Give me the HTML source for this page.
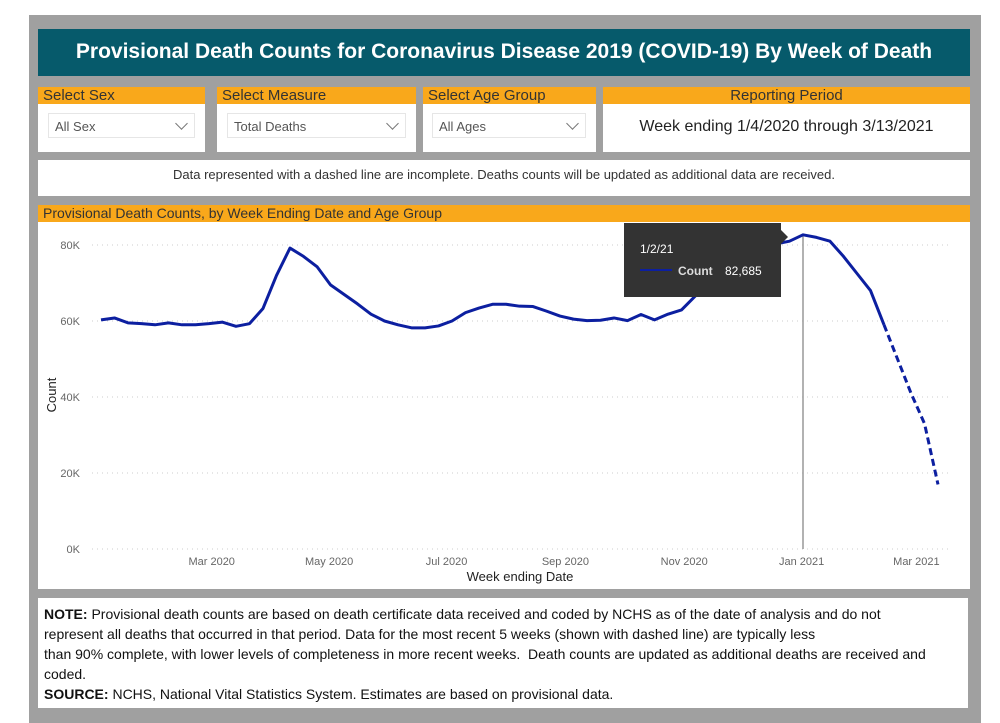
<!DOCTYPE html>
<html><head><meta charset="utf-8"><style>
body{margin:0;width:1000px;height:723px;background:#fff;position:relative;overflow:hidden;font-family:"Liberation Sans",sans-serif}
.abs{position:absolute}
.panel{position:absolute;background:#fff}
.hdr{position:absolute;left:0;right:0;top:0;height:17px;background:#f9a81b;color:#333;font-size:15px;line-height:17px;padding-left:5px}
.dd{position:absolute;border:1px solid #e6e6e6;height:25px;font-size:13px;color:#555;line-height:25px;padding-left:6px;box-sizing:border-box}
.chev{position:absolute;right:8px;top:5px;width:8px;height:8px;border-right:1.3px solid #777;border-bottom:1.3px solid #777;transform:rotate(45deg)}
</style></head><body>
<div class="abs" style="left:29px;top:15px;width:952px;height:708px;background:#a0a0a0"></div>
<div class="abs" style="left:38px;top:29px;width:932px;height:47px;background:#065a6b;color:#fff;font-weight:bold;font-size:21px;line-height:45px;text-align:center">Provisional Death Counts for Coronavirus Disease 2019 (COVID-19) By Week of Death</div>

<div class="panel" style="left:38px;top:87px;width:167px;height:65px"><div class="hdr">Select Sex</div><div class="dd" style="left:10px;top:26px;width:147px">All Sex<span class="chev"></span></div></div>
<div class="panel" style="left:217px;top:87px;width:199px;height:65px"><div class="hdr">Select Measure</div><div class="dd" style="left:10px;top:26px;width:179px">Total Deaths<span class="chev"></span></div></div>
<div class="panel" style="left:423px;top:87px;width:173px;height:65px"><div class="hdr">Select Age Group</div><div class="dd" style="left:9px;top:26px;width:154px">All Ages<span class="chev"></span></div></div>
<div class="panel" style="left:603px;top:87px;width:367px;height:65px"><div class="hdr" style="text-align:center;padding:0">Reporting Period</div><div class="abs" style="left:0;right:0;top:31px;text-align:center;font-size:16px;color:#222">Week ending 1/4/2020 through 3/13/2021</div></div>

<div class="panel" style="left:38px;top:160px;width:932px;height:36px;font-size:13px;color:#333;text-align:center;line-height:30px">Data represented with a dashed line are incomplete. Deaths counts will be updated as additional data are received.</div>

<div class="panel" style="left:38px;top:205px;width:932px;height:384px"><div class="hdr" style="font-size:14px">Provisional Death Counts, by Week Ending Date and Age Group</div></div>
<svg class="abs" style="left:0;top:0" width="1000" height="723">
<g id="grid"></g><g id="marks"></g><g id="tip"></g>
<text x="56" y="395" transform="rotate(-90 56 395)" text-anchor="middle" font-size="13" fill="#222">Count</text>
<text x="520" y="581" text-anchor="middle" font-size="13" fill="#222">Week ending Date</text>
</svg>

<div class="panel" style="left:38px;top:598px;width:930px;height:110px;font-size:14px;color:#111;line-height:20px;padding:6px 6px;box-sizing:border-box;white-space:nowrap"><b>NOTE:</b> Provisional death counts are based on death certificate data received and coded by NCHS as of the date of analysis and do not<br>represent all deaths that occurred in that period. Data for the most recent 5 weeks (shown with dashed line) are typically less<br>than 90% complete, with lower levels of completeness in more recent weeks.&nbsp; Death counts are updated as additional deaths are received and<br>coded.<br><b>SOURCE:</b> NCHS, National Vital Statistics System. Estimates are based on provisional data.</div>

<script>
const counts=[60.3,60.8,59.5,59.3,59.0,59.5,59.0,59.0,59.3,59.7,58.6,59.3,63.3,72,79.2,77,74.3,69.5,67,64.5,61.8,60,59,58.2,58.2,58.7,60,62.2,63.4,64.4,64.4,63.9,63.8,62.6,61.3,60.5,60.1,60.2,60.8,60.1,61.7,60.3,61.8,62.9,66.5,70,74,77,79,80.5,80.3,81,82.685,82,81,77,72.5,68,59,50,41,33,17];
const dashedFrom=58;
const yTicks=[0,20,40,60,80];
const xTickLabels=["Mar 2020","May 2020","Jul 2020","Sep 2020","Nov 2020","Jan 2021","Mar 2021"];
const xTickWeeks=[8.2,16.9,25.6,34.4,43.2,51.9,60.4];
const tipWeek=52;
const NS="http://www.w3.org/2000/svg";
const x=i=>101+i*13.5, y=v=>549-v*3.8;
function mk(t,a,p){const e=document.createElementNS(NS,t);for(const k in a)e.setAttribute(k,a[k]);p.appendChild(e);return e;}
const grid=document.getElementById('grid'),marks=document.getElementById('marks'),tip=document.getElementById('tip');
yTicks.forEach(v=>{
 const l=mk('line',{x1:92,x2:952,y1:y(v),y2:y(v),stroke:'#ccc','stroke-dasharray':'1 4'},grid);
 
 
 const t=mk('text',{x:80,y:y(v)+4,'text-anchor':'end','font-size':11,fill:'#666'},grid);t.textContent=v+'K';
 
 
});
xTickLabels.forEach((s,k)=>{
 const t=mk('text',{x:x(xTickWeeks[k]),y:565,'text-anchor':'middle','font-size':11,fill:'#666'},grid);t.textContent=s;
 
 
});
const vl=mk('line',{x1:x(tipWeek),x2:x(tipWeek),y1:y(counts[tipWeek]),y2:y(0),stroke:'#999','stroke-width':1.5},marks);


const pts=i=>x(i)+','+y(counts[i]);
let s=[],d=[];for(let i=0;i<=dashedFrom;i++)s.push(pts(i));for(let i=dashedFrom;i<counts.length;i++)d.push(pts(i));
const l1=mk('polyline',{points:s.join(' '),fill:'none',stroke:'#0c1fa0','stroke-width':3,'stroke-linejoin':'round'},marks);


const l2=mk('polyline',{points:d.join(' '),fill:'none',stroke:'#0c1fa0','stroke-width':3,'stroke-dasharray':'7 4'},marks);


const tb=mk('rect',{x:624,y:223,width:157,height:74,fill:'#333'},tip);


mk('polygon',{points:'781,230 788,237 781,244',fill:'#333'},tip);
const t1=mk('text',{x:640,y:253,'font-size':12,fill:'#fff'},tip);t1.textContent='1/2/21';
mk('line',{x1:640,x2:672,y1:270,y2:270,stroke:'#0c1fa0','stroke-width':2},tip);
const t2=mk('text',{x:678,y:275,'font-size':12,fill:'#ddd','font-weight':'bold'},tip);t2.textContent='Count';
const t3=mk('text',{x:725,y:275,'font-size':12,fill:'#fff'},tip);t3.textContent=Math.round(counts[tipWeek]*1000).toLocaleString('en-US');
</script>
</body></html>
